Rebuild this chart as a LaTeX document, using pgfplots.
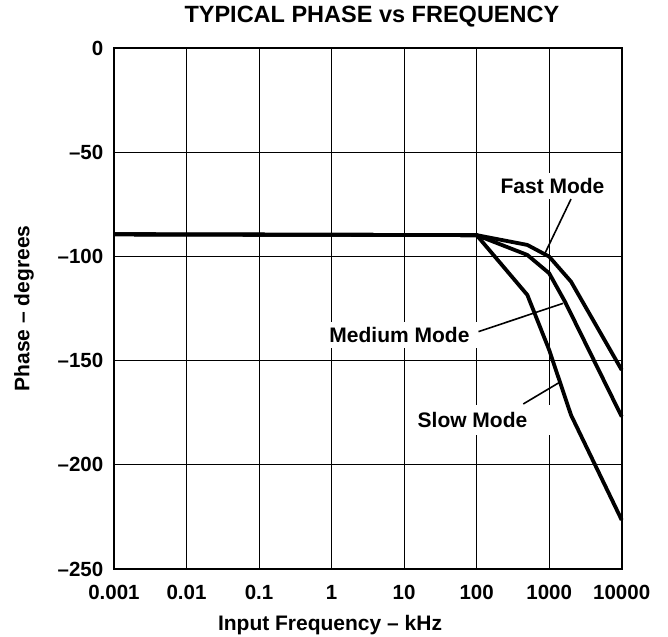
\documentclass[border=0pt]{standalone}
\usepackage{fontspec}
\setmainfont{Liberation Sans}
\usepackage{pgfplots}
\pgfplotsset{compat=1.18}
\begin{document}
\begin{tikzpicture}
\begin{axis}[
  name=ax,
  scale only axis, width=507.7pt, height=521pt,
  xmode=log, xmin=0.001, xmax=10000, ymin=-250, ymax=0,
  xtick={0.001,0.01,0.1,1,10,100,1000,10000},
  xticklabels={0.001,0.01,0.1,1,10,100,1000,10000},
  ytick={-250,-200,-150,-100,-50,0},
  yticklabels={\textendash250,\textendash200,\textendash150,\textendash100,\textendash50,0},
  xminorticks=false, yminorticks=false,
  major tick length=0pt,
  grid=major, major grid style={black, line width=1pt},
  axis line style={black, line width=2pt},
  tick label style={font=\bfseries\fontsize{20.5}{24}\selectfont, inner sep=0pt},
  x tick label style={anchor=north, yshift=-16pt},
  y tick label style={anchor=east, xshift=-10.5pt},
  xlabel={Input Frequency \textendash\ kHz},
  xlabel style={font=\bfseries\fontsize{21}{24}\selectfont, at={(rel axis cs:0.4255,0)}, anchor=base, yshift=-61pt, inner sep=0pt},
  ylabel={Phase \textendash\ degrees},
  ylabel style={font=\bfseries\fontsize{21}{24}\selectfont, at={(rel axis cs:0,0.5)}, anchor=base, yshift=84.7pt, inner sep=0pt},
  title={TYPICAL PHASE vs FREQUENCY},
  title style={font=\bfseries\fontsize{23.5}{26}\selectfont, at={(rel axis cs:0.508,1)}, anchor=base, yshift=19.3pt, inner sep=0pt},
  clip=false,
]
% labels with white background
\node[fill=white, inner xsep=6pt, inner ysep=5pt, font=\bfseries\fontsize{21}{24}\selectfont] at (axis cs:1111,-66.2) {Fast Mode};
\node[fill=white, inner xsep=9pt, inner ysep=5pt, font=\bfseries\fontsize{21}{24}\selectfont] at (axis cs:8.63,-137.7) {Medium Mode};
\node[fill=white, inner xsep=7pt, inner ysep=7pt, font=\bfseries\fontsize{21}{24}\selectfont] at (axis cs:114.8,-178.5) {Slow Mode\hspace*{17pt}};
% curves
\addplot[black, line width=3.8pt] coordinates {(0.001,-89.4) (100,-89.8) (500,-94.5) (1000,-100.1) (2000,-112.1) (10000,-154.5)};
\addplot[black, line width=3.8pt] coordinates {(0.001,-89.4) (100,-89.8) (500,-99.3) (1000,-108.1) (1650,-121.7) (10000,-176.9)};
\addplot[black, line width=3.8pt] coordinates {(0.001,-89.4) (100,-89.8) (500,-118.5) (1000,-144.9) (2000,-176.1) (10000,-226.5)};
% leader lines
\addplot[black, line width=1.6pt] coordinates {(2000,-72.5) (875,-98.5)};
\addplot[black, line width=1.6pt] coordinates {(106,-136.1) (1563,-122.5)};
\addplot[black, line width=1.6pt] coordinates {(440,-170.8) (1365,-160.6)};
\end{axis}
\path (ax.south west) ++(-114pt,-67pt);
\path (ax.north east) ++(46.3pt,48pt);
\end{tikzpicture}
\end{document}
